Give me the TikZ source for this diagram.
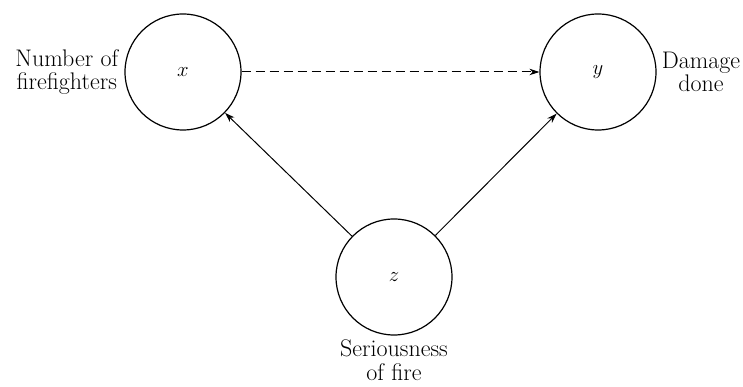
\documentclass[tikz,border=0pt]{standalone}
\usetikzlibrary{positioning,arrows.meta}
\begin{document}
\begin{tikzpicture}[x=1pt,y=1pt,font=\fontsize{24}{23.5}\selectfont,
  var/.style={circle,draw,line width=1.2pt,minimum size=116pt,inner sep=0pt,font=\fontsize{21}{21}\selectfont},
  lab/.style={inner sep=0pt,align=center},
  arr/.style={-{Stealth[length=10pt,width=6.5pt]},line width=1pt}]
\useasboundingbox (0,0) rectangle (743,387);
% variables
\node[var] (x) at (183,315) {$x$};
\node[var] (y) at (598,315) {$y$};
\node[var] (z) at (394,110) {$z$};
% labels
\node[lab,left=6pt of x] (xl) {Number of\\firefighters};
\node[lab,right=5pt of y] (yl) {Damage\\done};
\node[lab,below=4pt of z] (zl) {Seriousness\\of fire};
% links
\draw[arr,dash pattern=on 9pt off 5pt] (x) -- (y);
\draw[arr] (z) -- (x);
\draw[arr] (z) -- (y);
\end{tikzpicture}
\end{document}
